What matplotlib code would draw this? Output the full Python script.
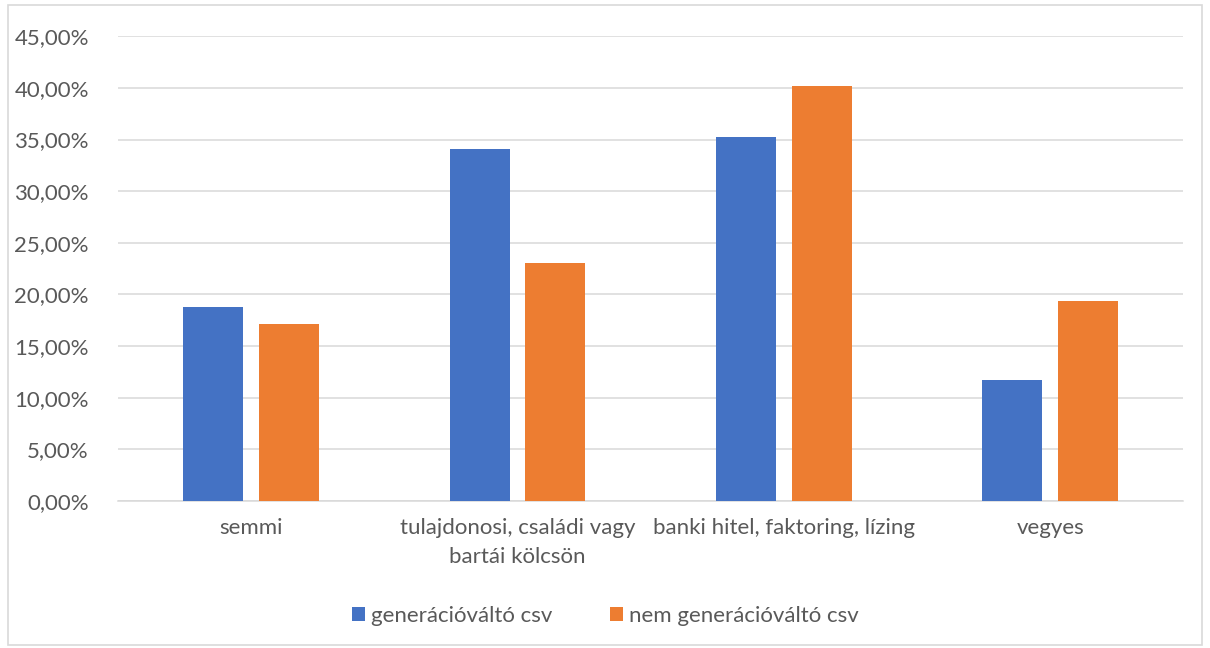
import numpy as np
import matplotlib.pyplot as plt
from matplotlib.patches import Rectangle
from matplotlib.ticker import FuncFormatter

categories = ["semmi", "tulajdonosi, családi vagy\nbartái kölcsön", "banki hitel, faktoring, lízing", "vegyes"]
series_names = ["generációváltó csv", "nem generációváltó csv"]
gen_valto = [18.75, 34.05, 35.25, 11.75]
nem_gen_valto = [17.12, 23.0, 40.2, 19.35]

plt.rcParams["font.family"] = ["Lato", "DejaVu Sans"]
text_color = "#595959"

fig = plt.figure(figsize=(12.1, 6.48), dpi=100)
fig.patches.append(
    Rectangle((0.0066, 0.005), 0.987, 0.988, transform=fig.transFigure,
              fill=False, edgecolor="#d9d9d9", linewidth=1.2)
)
ax = fig.add_axes([0.0975, 0.2269, 0.8805, 0.7171])

x = np.arange(len(categories))
width = 0.225
offset = 0.1425
ax.bar(x - offset, np.array(gen_valto) / 100, width, color="#4472c4", label=series_names[0], zorder=3)
ax.bar(x + offset, np.array(nem_gen_valto) / 100, width, color="#ed7d31", label=series_names[1], zorder=3)

ax.set_xlim(-0.5, len(categories) - 0.5)
ax.set_ylim(0, 0.45)
ax.set_yticks(np.arange(0, 0.451, 0.05))
ax.yaxis.set_major_formatter(FuncFormatter(lambda v, _: f"{v * 100:.2f}%".replace(".", ",")))
ax.grid(axis="y", color="#d9d9d9", linewidth=1.1, zorder=0)
for side in ["top", "right", "left"]:
    ax.spines[side].set_visible(False)
ax.spines["bottom"].set_color("#d9d9d9")
ax.spines["bottom"].set_linewidth(1.1)
ax.tick_params(length=0, labelsize=16, colors=text_color, pad=12)
ax.tick_params(axis="y", pad=21)
ax.set_xticks(x)
ax.set_xticklabels(categories, linespacing=1.6)

fig.legend(loc="center", bbox_to_anchor=(0.5, 0.05), ncol=2, frameon=False,
           fontsize=16, labelcolor=text_color, handlelength=0.6, handleheight=0.6,
           handletextpad=0.25, columnspacing=2.6)

fig.savefig("out.png", dpi=100)
